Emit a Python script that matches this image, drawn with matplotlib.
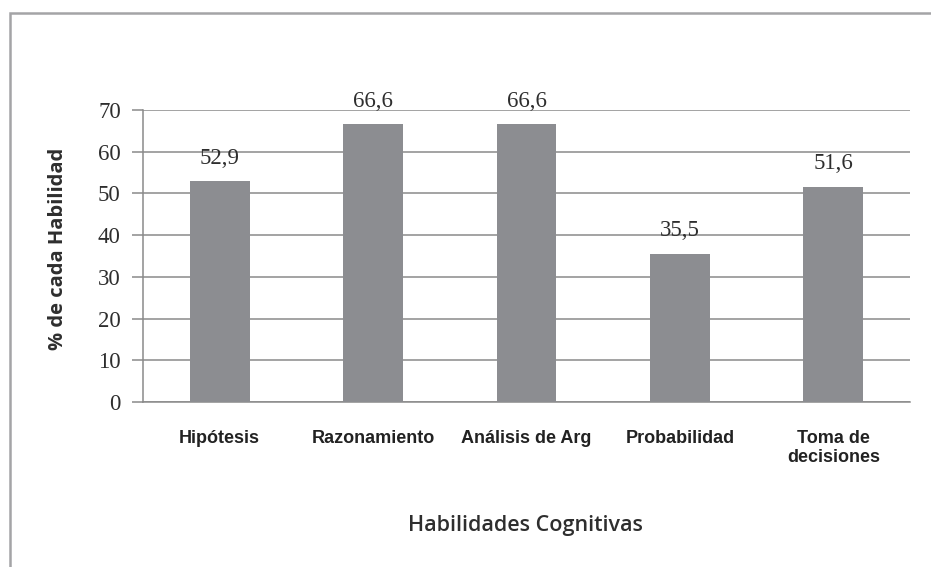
import matplotlib.pyplot as plt
from matplotlib.patches import Rectangle

categories = ['Hipótesis', 'Razonamiento', 'Análisis de Arg', 'Probabilidad', 'Toma de\ndecisiones']
values = [52.9, 66.6, 66.6, 35.5, 51.6]
value_labels = ['52,9', '66,6', '66,6', '35,5', '51,6']
yticks = [0, 10, 20, 30, 40, 50, 60, 70]

W, H = 931, 567
fig = plt.figure(figsize=(W / 100, H / 100), dpi=100)
ax = fig.add_axes([143 / W, 1 - 402 / H, (910 - 143) / W, (402 - 110) / H])

# outer chart frame (cut off at right and bottom like the scan)
fig.patches.append(Rectangle((10 / W, -0.1), 1.2, 1.1 - 13 / H, transform=fig.transFigure,
                             fill=False, edgecolor='#a4a4a6', linewidth=1.8))

x = range(len(categories))
ax.bar(x, values, width=0.39, color='#8c8d91', zorder=3)
ax.set_xlim(-0.5, len(categories) - 0.5)
ax.set_ylim(0, 70)
ax.set_yticks(yticks)
ax.set_yticklabels([str(t) for t in yticks], family='Liberation Serif', fontsize=16.5, color='#2e2e2e')
ax.set_xticks(list(x))
ax.set_xticklabels(categories, family='Liberation Sans', fontweight='bold', fontsize=13,
                   color='#222222', linespacing=1.2)
ax.yaxis.grid(True, color='#8a8a8a', linewidth=1.1, zorder=0)
ax.tick_params(axis='y', length=8, color='#8a8a8a', width=1.1, pad=8)
ax.tick_params(axis='x', length=0, pad=20)

for s in ['top', 'right']:
    ax.spines[s].set_visible(False)
for s in ['left', 'bottom']:
    ax.spines[s].set_color('#8a8a8a')
    ax.spines[s].set_linewidth(1.1)

for i, (v, lab) in enumerate(zip(values, value_labels)):
    ax.annotate(lab, (i, v), xytext=(0, 9), textcoords='offset points', ha='center', va='bottom',
                family='Liberation Serif', fontsize=16.5, color='#2e2e2e')

fig.text(525 / W, 1 - 525 / H, 'Habilidades Cognitivas', ha='center', va='center',
         family='Open Sans', fontweight='semibold', fontsize=15.5, color='#2e2e2e')
fig.text(58 / W, 1 - 249 / H, '% de cada Habilidad', ha='center', va='center', rotation=90,
         family='Open Sans', fontweight='bold', fontsize=14.5, color='#2e2e2e')

fig.savefig('out.png', dpi=100, facecolor='white')
